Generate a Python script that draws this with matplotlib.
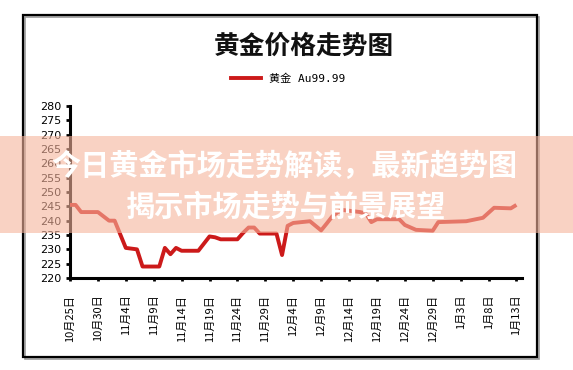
import matplotlib
matplotlib.use("Agg")
import matplotlib.pyplot as plt
from matplotlib.patches import Rectangle
from matplotlib.lines import Line2D
import pandas as pd

plt.rcParams['font.family'] = ['Noto Sans CJK SC', 'DejaVu Sans']

# ---- data ----
dates = ["2021-10-25", "2021-10-26", "2021-10-27", "2021-10-30", "2021-11-01",
         "2021-11-02", "2021-11-04", "2021-11-06", "2021-11-07", "2021-11-10",
         "2021-11-11", "2021-11-12", "2021-11-13", "2021-11-14", "2021-11-17",
         "2021-11-19", "2021-11-20", "2021-11-21", "2021-11-24", "2021-11-25",
         "2021-11-26", "2021-11-27", "2021-11-28", "2021-12-01", "2021-12-02",
         "2021-12-03", "2021-12-04", "2021-12-07", "2021-12-09", "2021-12-10",
         "2021-12-11", "2021-12-12", "2021-12-13", "2021-12-16", "2021-12-17",
         "2021-12-18", "2021-12-19", "2021-12-23", "2021-12-24", "2021-12-26",
         "2021-12-29", "2021-12-30", "2022-01-04", "2022-01-07", "2022-01-09",
         "2022-01-12", "2022-01-13"]
prices = [245.5, 245.5, 243.0, 243.0, 240.0,
          240.0, 230.5, 230.0, 224.0, 224.0,
          230.5, 228.3, 230.5, 229.5, 229.5,
          234.5, 234.2, 233.5, 233.5, 235.7,
          237.6, 237.6, 235.5, 235.5, 228.0,
          238.2, 239.2, 239.8, 236.6, 239.0,
          241.5, 243.0, 243.7, 243.0, 242.5,
          239.5, 240.5, 240.5, 238.5, 236.8,
          236.5, 239.5, 239.8, 241.0, 244.5,
          244.3, 245.5]

tick_dates = ["2021-10-25", "2021-10-30", "2021-11-04", "2021-11-09", "2021-11-14",
              "2021-11-19", "2021-11-24", "2021-11-29", "2021-12-04", "2021-12-09",
              "2021-12-14", "2021-12-19", "2021-12-24", "2021-12-29", "2022-01-03",
              "2022-01-08", "2022-01-13"]
tick_labels = ["10月25日", "10月30日", "11月4日", "11月9日", "11月14日",
               "11月19日", "11月24日", "11月29日", "12月4日", "12月9日",
               "12月14日", "12月19日", "12月24日", "12月29日", "1月3日",
               "1月8日", "1月13日"]
y_ticks = [220, 225, 230, 235, 240, 245, 250, 255, 260, 265, 270, 275, 280]

title = "黄金价格走势图"
series_name = "黄金 Au99.99"
banner_line1 = "今日黄金市场走势解读，最新趋势图"
banner_line2 = "揭示市场走势与前景展望"

# ---- figure ----
W, H = 573, 370
fig = plt.figure(figsize=(W / 100, H / 100), dpi=100)
fig.patch.set_facecolor("white")

# outer frame with slight shadow
fig.patches.append(Rectangle((24.5 / W, 1 - 358.5 / H), 514 / W, 342 / H,
                             transform=fig.transFigure, fill=False,
                             edgecolor="#9a9a9a", linewidth=1.2, zorder=0))
fig.patches.append(Rectangle((22.7 / W, 1 - 357 / H), 514 / W, 342 / H,
                             transform=fig.transFigure, fill=False,
                             edgecolor="black", linewidth=1.6, zorder=1))

ax = fig.add_axes([70 / W, 1 - 278 / H, (522 - 70) / W, (278 - 106) / H])
x = pd.to_datetime(dates)
ax.plot(x, prices, color="#cc1a1a", linewidth=2.8, solid_joinstyle="round",
        solid_capstyle="butt", zorder=3)

ax.set_ylim(220, 280)
ax.set_yticks(y_ticks)
ax.set_yticklabels([str(v) for v in y_ticks], family="DejaVu Sans", fontsize=8)
tx = pd.to_datetime(tick_dates)
ax.set_xticks(tx)
ax.set_xticklabels(tick_labels, rotation=90, fontsize=8, va="top", ha="center")
ax.set_xlim(pd.Timestamp("2021-10-25"), pd.Timestamp("2021-10-25") + pd.Timedelta(days=81))

for s in ["top", "right"]:
    ax.spines[s].set_visible(False)
for s in ["left", "bottom"]:
    ax.spines[s].set_linewidth(2.2)
    ax.spines[s].set_color("black")
ax.tick_params(axis="y", direction="out", length=3, width=2, pad=3, colors="black")
ax.tick_params(axis="x", direction="out", length=2, width=2, pad=10, colors="black")
ax.set_facecolor("none")

# title & legend
fig.text(304 / W, 1 - 46 / H, title, ha="center", va="center",
         fontsize=18.5, fontweight="bold", color="#111111")
handle = Line2D([], [], color="#cc1a1a", linewidth=2.8)
fig.legend([handle], [series_name], loc="center",
           bbox_to_anchor=(288 / W, 1 - 79 / H), frameon=False,
           prop={"family": ["DejaVu Sans Mono", "Noto Sans CJK SC"], "size": 8},
           handlelength=2.7, handletextpad=0.7)

# overlay banner
fig.patches.append(Rectangle((0, 1 - 233 / H), 1, (233 - 136) / H,
                             transform=fig.transFigure,
                             facecolor=(246 / 255, 180 / 255, 156 / 255),
                             alpha=0.6, edgecolor="none", zorder=10))
fig.text(284 / W, 1 - 166 / H, banner_line1, ha="center", va="center",
         fontsize=21, fontweight="bold", color="white", zorder=11)
fig.text(286 / W, 1 - 207 / H, banner_line2, ha="center", va="center",
         fontsize=21, fontweight="bold", color="white", zorder=11)

fig.savefig("out.png", dpi=100, facecolor="white")
